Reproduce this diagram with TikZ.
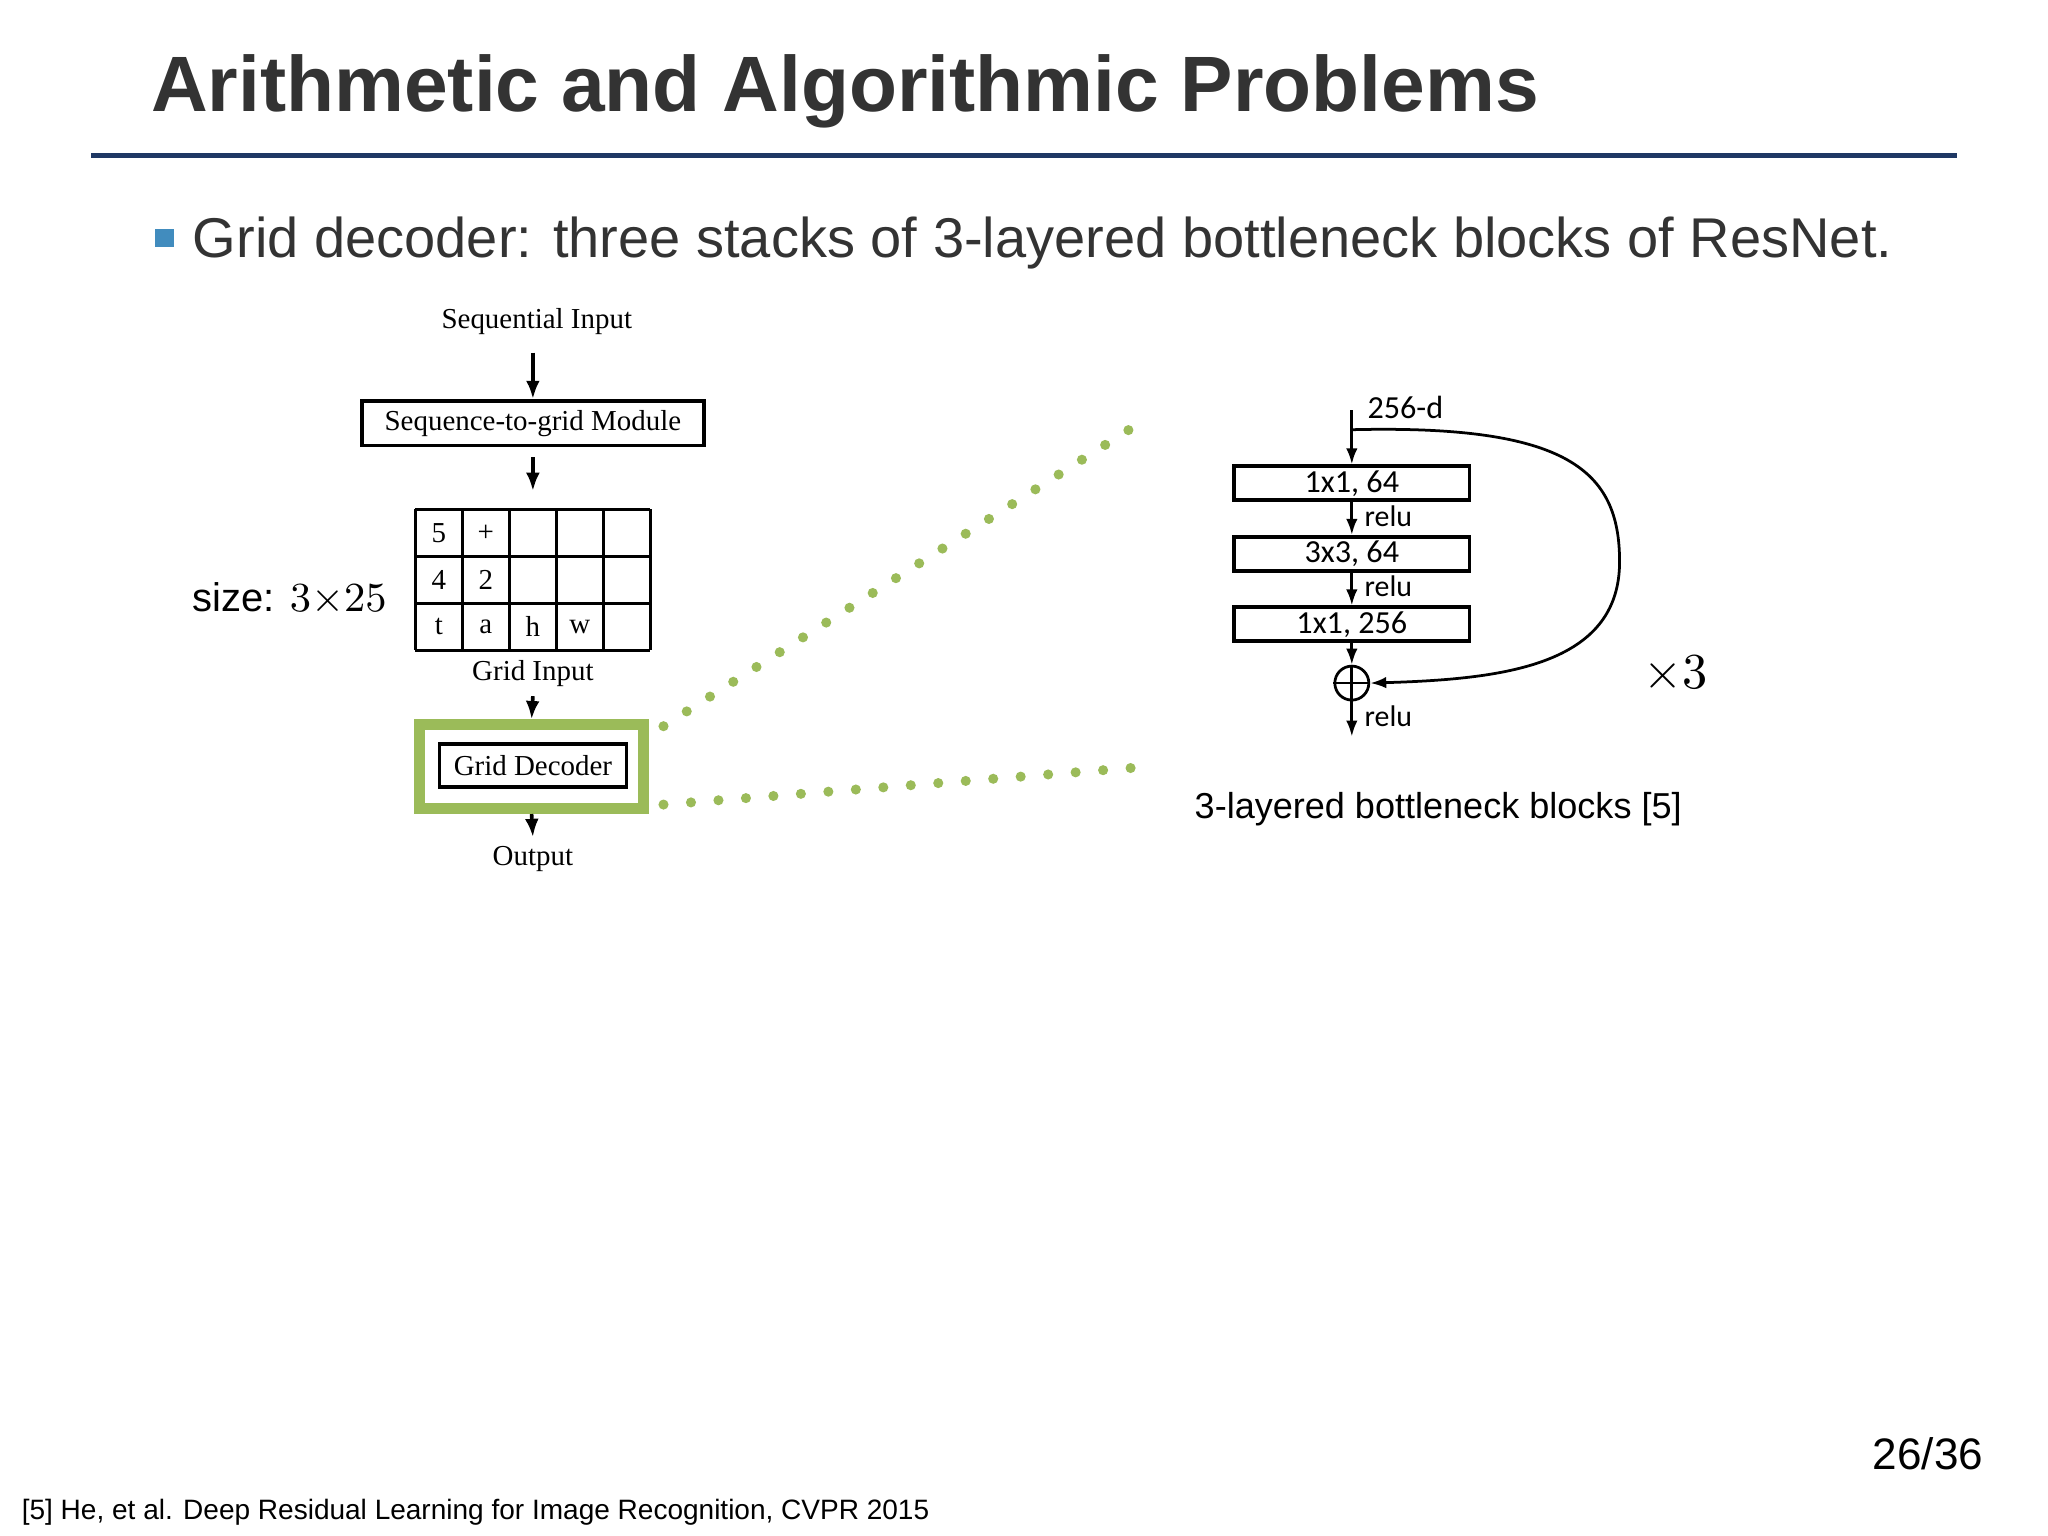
\documentclass[tikz,border=0pt]{standalone}
\usepackage{fontspec}
\setmainfont{Liberation Serif}
\newfontfamily\arial{Liberation Sans}
\newfontfamily\calib{Carlito}
\usetikzlibrary{positioning,arrows.meta}
\definecolor{navy}{RGB}{31,56,100}
\definecolor{bulletblue}{RGB}{65,140,190}
\definecolor{leaf}{RGB}{155,187,89}
\definecolor{titlegray}{RGB}{51,51,51}
\begin{document}
\begin{tikzpicture}[x=0.01cm,y=-0.01cm,
  serifbox/.style={draw,thick,font=\fontsize{6.3}{7}\selectfont,inner sep=0pt},
  resbox/.style={draw,thick,minimum width=1.8cm,minimum height=0.26cm,inner sep=0pt,font=\calib\fontsize{7}{8}\selectfont},
  lbl/.style={font=\fontsize{6.3}{7}\selectfont,inner sep=0pt},
  rlbl/.style={font=\calib\fontsize{6.5}{7}\selectfont,inner sep=0pt},
  arr/.style={-{Latex[length=4pt,width=3pt]},thick},
  rarr/.style={-{Latex[length=3.5pt,width=2.5pt]},semithick},
  dots/.style={leaf,line width=2.2pt,dash pattern=on 0pt off 6pt,line cap=round}]
\useasboundingbox (0,0) rectangle (1568,1176);

% ===== title =====
\node[anchor=base west,inner sep=0pt,text=titlegray,font=\arial\bfseries\fontsize{17.1}{20}\selectfont] (title) at (115,85) {Arithmetic and Algorithmic Problems};
\draw[navy,line width=1pt] (70,119) -- (1498,119);
\fill[bulletblue] (119,175) rectangle (133,189);
\node[anchor=base west,inner sep=0pt,text=titlegray,font=\arial\fontsize{12.2}{14}\selectfont] (bullet) at (147,197) {Grid decoder: three stacks of 3-layered bottleneck blocks of ResNet.};

% ===== left: pipeline =====
\node[lbl] (seqin) at (411,246) {Sequential Input};
\node[serifbox,minimum width=2.62cm,minimum height=0.34cm] (s2g) at (408,324) {Sequence-to-grid Module};
\coordinate (a1) at (408,270);
\draw[arr] (a1) -- (s2g.north);
\coordinate (a2) at (408,350);
\coordinate (a3) at (408,376);
\draw[arr] (a2) -- (a3);

% grid 3x5
\foreach \c in {0,...,5} \draw[thick] (318+36*\c,390) -- (318+36*\c,498);
\foreach \r in {0,...,3} \draw[thick] (318,390+36*\r) -- (498,390+36*\r);
\foreach \t/\c/\r in {5/0/0,+/1/0,4/0/1,2/1/1,t/0/2,a/1/2,h/2/2,w/3/2}
  \node[lbl] (g\c\r) at (336+36*\c,408+36*\r) {\t};
\node[lbl] (gridin) at (408,516) {Grid Input};
\node[anchor=base west,inner sep=0pt,font=\arial\fontsize{8.7}{10}\selectfont] (size) at (147,468) {size: $3{\times}25$};

\node[draw=leaf,line width=2.4pt,minimum width=1.72cm,minimum height=0.64cm] (green) at (407,587) {};
\node[serifbox,minimum width=1.43cm,minimum height=0.33cm] (dec) at (408,586) {Grid Decoder};
\coordinate (a4) at (408,533);
\draw[arr] (a4) -- (green.north);
\coordinate (a5) at (408,641);
\draw[arr] (green.south) -- (a5);
\node[lbl] (out) at (408,658) {Output};

% zoom lines
\coordinate (z1) at (866,328);
\coordinate (z2) at (866,588);
\draw[dots] (508,556) -- (z1);
\draw[dots] (508,616) -- (z2);

% ===== right: bottleneck block =====
\node[rlbl,font=\calib\fontsize{7}{8}\selectfont] (dim) at (1076,312) {256-d};
\node[resbox] (b1) at (1035,370) {1x1, 64};
\node[resbox] (b2) at (1035,424) {3x3, 64};
\node[resbox] (b3) at (1035,478) {1x1, 256};
\node[draw,semithick,circle,minimum size=0.26cm,inner sep=0pt] (sum) at (1035,523) {};
\draw[semithick] (sum.north) -- (sum.south) (sum.west) -- (sum.east);
\coordinate (top) at (1035,314);
\coordinate (bot) at (1035,564);
\draw[rarr] (top) -- (b1);
\draw[rarr] (b1) -- (b2);
\draw[rarr] (b2) -- (b3);
\draw[rarr] (b3) -- (sum);
\draw[rarr] (sum) -- (bot);
\draw[rarr] (1035,329) .. controls (1200,325) and (1240,360) .. (1240,430)
  .. controls (1240,510) and (1150,520) .. (sum.east);
\node[rlbl] (r1) at (1063,395) {relu};
\node[rlbl] (r2) at (1063,449) {relu};
\node[rlbl] (r3) at (1063,548) {relu};
\node[font=\fontsize{11}{12}\selectfont] (times) at (1283,516) {$\times 3$};
\node[anchor=base west,inner sep=0pt,font=\arial\fontsize{7.85}{10}\selectfont] (cap) at (914,627) {3-layered bottleneck blocks [5]};

% ===== footer =====
\node[anchor=base east,inner sep=0pt,font=\arial\fontsize{9.6}{12}\selectfont] (page) at (1519,1125) {26/36};
\node[anchor=base west,inner sep=0pt,font=\arial\fontsize{6.1}{7}\selectfont] (ref) at (16,1163) {[5] He, et al. Deep Residual Learning for Image Recognition, CVPR 2015};
\end{tikzpicture}
\end{document}
